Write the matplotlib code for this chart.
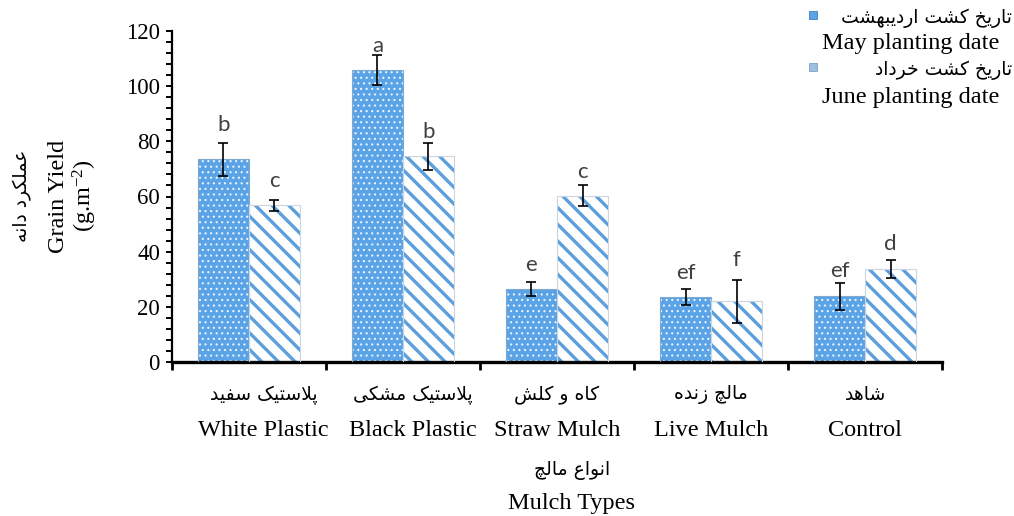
import numpy as np
import matplotlib
matplotlib.use('Agg')
import matplotlib.pyplot as plt
from matplotlib.patches import Rectangle

# ---- data ----
cats_en = ['White Plastic', 'Black Plastic', 'Straw Mulch', 'Live Mulch', 'Control']
cats_fa = ['پلاستیک سفید', 'پلاستیک مشکی', 'کاه و کلش', 'مالچ زنده', 'شاهد']
series_en = ['May planting date', 'June planting date']
series_fa = ['تاریخ کشت اردیبهشت', 'تاریخ کشت خرداد']

may = [73.5, 105.9, 26.4, 23.7, 23.8]
may_err = [5.9, 5.3, 2.5, 2.9, 5.0]
june = [56.8, 74.6, 60.2, 22.0, 33.6]
june_err = [2.0, 4.9, 3.8, 7.8, 3.3]
may_letters = ['b', 'a', 'e', 'ef', 'ef']
june_letters = ['c', 'b', 'c', 'f', 'd']

xlabel_en = 'Mulch Types'
xlabel_fa = 'انواع مالچ'
ylabel_en = 'Grain Yield'
ylabel_unit = '(g.m$^{-2}$)'
ylabel_fa = 'عملکرد دانه'

# ---- simple persian shaping (matplotlib has no complex text layout) ----
FORMS = {
    '\u0627': ('\uFE8D', '\uFE8E', None, None),
    '\u0628': ('\uFE8F', '\uFE90', '\uFE91', '\uFE92'),
    '\u067E': ('\uFB56', '\uFB57', '\uFB58', '\uFB59'),
    '\u062A': ('\uFE95', '\uFE96', '\uFE97', '\uFE98'),
    '\u0686': ('\uFB7A', '\uFB7B', '\uFB7C', '\uFB7D'),
    '\u062E': ('\uFEA5', '\uFEA6', '\uFEA7', '\uFEA8'),
    '\u062F': ('\uFEA9', '\uFEAA', None, None),
    '\u0631': ('\uFEAD', '\uFEAE', None, None),
    '\u0632': ('\uFEAF', '\uFEB0', None, None),
    '\u0633': ('\uFEB1', '\uFEB2', '\uFEB3', '\uFEB4'),
    '\u0634': ('\uFEB5', '\uFEB6', '\uFEB7', '\uFEB8'),
    '\u0639': ('\uFEC9', '\uFECA', '\uFECB', '\uFECC'),
    '\u0641': ('\uFED1', '\uFED2', '\uFED3', '\uFED4'),
    '\u06A9': ('\uFB8E', '\uFB8F', '\uFB90', '\uFB91'),
    '\u0644': ('\uFEDD', '\uFEDE', '\uFEDF', '\uFEE0'),
    '\u0645': ('\uFEE1', '\uFEE2', '\uFEE3', '\uFEE4'),
    '\u0646': ('\uFEE5', '\uFEE6', '\uFEE7', '\uFEE8'),
    '\u0647': ('\uFEE9', '\uFEEA', '\uFEEB', '\uFEEC'),
    '\u0648': ('\uFEED', '\uFEEE', None, None),
    '\u06CC': ('\uFBFC', '\uFBFD', '\uFBFE', '\uFBFF'),
}


def fa(s):
    s = s.replace('\u0643', '\u06A9').replace('\u064A', '\u06CC')
    out = []
    i = 0
    while i < len(s):
        c = s[i]
        if c not in FORMS:
            out.append(c)
            i += 1
            continue
        prev = s[i - 1] if i > 0 else ''
        join_prev = prev in FORMS and FORMS[prev][2] is not None
        nxt = s[i + 1] if i + 1 < len(s) else ''
        if c == '\u0644' and nxt == '\u0627':
            out.append('\uFEFC' if join_prev else '\uFEFB')
            i += 2
            continue
        join_next = FORMS[c][2] is not None and nxt in FORMS
        iso, fin, ini, med = FORMS[c]
        if join_prev and join_next:
            g = med
        elif join_prev:
            g = fin
        elif join_next:
            g = ini
        else:
            g = iso
        out.append(g)
        i += 1
    return ''.join(out[::-1])


W, H = 1014, 516
def fx(px):
    return px / W
def fy(py):
    return 1 - py / H

SERIF = 'Liberation Serif'
FAFONT = 'DejaVu Sans'
EN_SIZE = 17.5
FA_SIZE = 13.5
plt.rcParams['mathtext.default'] = 'regular'
plt.rcParams['hatch.linewidth'] = 2.4

may_face = '#5AA3E6'
june_line = '#5C9FDC'

fig = plt.figure(figsize=(W / 100, H / 100), dpi=100)
ax = fig.add_axes([fx(171.7), fy(362), fx(942.3) - fx(171.7), fy(31) - fy(362)])

x = np.arange(len(cats_en))
w = 0.331

b1 = ax.bar(x - w / 2, may, w, color=may_face, edgecolor='#EAF4FF', hatch='...', linewidth=0, zorder=2)
for p in b1:
    if hasattr(p, 'set_hatch_linewidth'):
        p.set_hatch_linewidth(0.8)
b2 = ax.bar(x + w / 2, june, w, color='white', edgecolor=june_line, hatch='\\\\', linewidth=0, zorder=2)
for p in b2:
    if hasattr(p, 'set_hatch_linewidth'):
        p.set_hatch_linewidth(2.4)
# soft outlines
ax.bar(x - w / 2, may, w, fill=False, edgecolor='#7fa9cf', linewidth=0.8, zorder=3)
ax.bar(x + w / 2, june, w, fill=False, edgecolor='#c9d6e2', linewidth=0.8, zorder=3)

ax.errorbar(x - w / 2, may, yerr=may_err, fmt='none', ecolor='black', elinewidth=1.2,
            capsize=3.8, capthick=1.2, zorder=4)
ax.errorbar(x + w / 2, june, yerr=june_err, fmt='none', ecolor='black', elinewidth=1.2,
            capsize=3.8, capthick=1.2, zorder=4)

# significance letters (pixel gap above bar top)
may_pad = [28, 18, 18, 18, 19]
june_pad = [18, 18, 18, 35, 19]
for i in range(len(x)):
    ax.annotate(may_letters[i], (x[i] - w / 2, may[i]), xytext=(0, may_pad[i] * 0.72),
                textcoords='offset points', ha='center', va='baseline',
                fontsize=16, color='#404040', family='Lato')
    ax.annotate(june_letters[i], (x[i] + w / 2, june[i]), xytext=(0, june_pad[i] * 0.72),
                textcoords='offset points', ha='center', va='baseline',
                fontsize=16, color='#404040', family='Lato')

ax.set_xlim(-0.5, len(x) - 0.5)
ax.set_ylim(0, 120)
ax.set_yticks(np.arange(0, 121, 20))
ax.set_yticks(np.arange(0, 121, 4), minor=True)
ax.set_yticklabels([str(v) for v in range(0, 121, 20)], family=SERIF, fontsize=16.5)
ax.tick_params(axis='y', which='both', direction='out', length=4.5, width=1.4, pad=4)
ax.set_xticks(np.arange(-0.5, len(x), 1.0))
ax.set_xticklabels([])
ax.tick_params(axis='x', direction='out', length=6, width=2)
ax.spines['top'].set_visible(False)
ax.spines['right'].set_visible(False)
ax.spines['left'].set_linewidth(1.6)
ax.spines['bottom'].set_linewidth(2.4)

# category labels
lab_shift = [15, 10, 0, 0, 0]
for i in range(len(x)):
    ax.annotate(fa(cats_fa[i]), (x[i], 0), xycoords=('data', 'axes fraction'),
                xytext=(lab_shift[i] * 0.72, -33 * 0.72), textcoords='offset points',
                ha='center', va='center', fontsize=FA_SIZE, family=FAFONT)
    ax.annotate(cats_en[i], (x[i], 0), xycoords=('data', 'axes fraction'),
                xytext=(lab_shift[i] * 0.72, -69 * 0.72), textcoords='offset points',
                ha='center', va='center', fontsize=EN_SIZE, family=SERIF)

# axis titles
fig.text(fx(572), fy(470), fa(xlabel_fa), ha='center', va='center', fontsize=FA_SIZE, family=FAFONT)
fig.text(fx(572), fy(504), xlabel_en, ha='center', va='center', fontsize=EN_SIZE, family=SERIF)
fig.text(fx(22), fy(196), fa(ylabel_fa), ha='center', va='center', rotation=90, fontsize=FA_SIZE, family=FAFONT)
fig.text(fx(59), fy(196), ylabel_en, ha='center', va='center', rotation=90, fontsize=EN_SIZE, family=SERIF)
fig.text(fx(85), fy(196), ylabel_unit, ha='center', va='center', rotation=90, fontsize=EN_SIZE, family=SERIF)

# legend
leg_rows = [(18, 43), (70, 97)]
leg_faces = [may_face, '#9CC0E2']
leg_edges = ['#3F7FBF', '#7F9FBF']
for k, (yf, ye) in enumerate(leg_rows):
    r = Rectangle((fx(809), fy(yf + 1)), fx(8), fy(0) - fy(8), transform=fig.transFigure,
                  facecolor=leg_faces[k], edgecolor=leg_edges[k], linewidth=0.6)
    fig.patches.append(r)
    fig.text(fx(1012), fy(yf), fa(series_fa[k]), ha='right', va='center', fontsize=FA_SIZE, family=FAFONT)
    fig.text(fx(911), fy(ye), series_en[k], ha='center', va='center', fontsize=EN_SIZE, family=SERIF)

fig.savefig('out.png', dpi=100)
